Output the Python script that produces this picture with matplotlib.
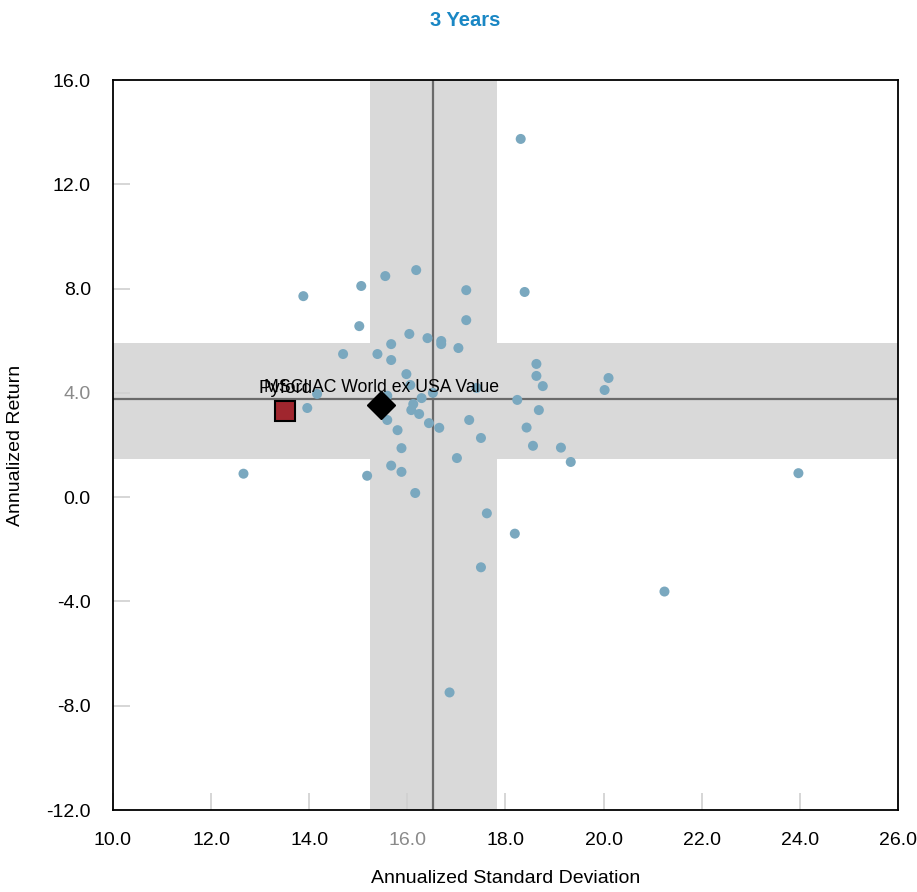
import matplotlib
matplotlib.use("Agg")
import matplotlib.pyplot as plt

plt.rcParams['font.family'] = ['Liberation Sans', 'DejaVu Sans']

# peer universe: annualized std dev / annualized return
peer_sd = [18.31, 16.18, 15.55, 13.88, 15.06, 17.20, 18.39, 15.02, 17.20, 16.04,
           16.41, 16.69, 16.69, 15.67, 17.04, 14.69, 15.39, 15.67, 18.63, 15.98,
           18.63, 20.10, 16.06, 18.76, 17.41, 20.02, 14.16, 16.52, 15.59, 16.29,
           13.96, 16.12, 16.08, 16.24, 15.59, 16.44, 16.65, 17.26, 15.80, 17.50,
           15.88, 17.01, 15.67, 15.88, 15.18, 12.66, 16.16, 18.24, 18.43, 18.68,
           18.56, 19.13, 19.33, 17.62, 18.19, 17.50, 21.24, 16.86, 23.97]
peer_ret = [13.74, 8.71, 8.48, 7.71, 8.10, 7.94, 7.87, 6.56, 6.79, 6.26,
            6.10, 5.99, 5.87, 5.87, 5.72, 5.49, 5.49, 5.26, 5.11, 4.72,
            4.65, 4.57, 4.30, 4.26, 4.19, 4.11, 3.96, 4.00, 3.89, 3.80,
            3.42, 3.57, 3.34, 3.19, 2.96, 2.84, 2.66, 2.96, 2.57, 2.27,
            1.88, 1.50, 1.21, 0.97, 0.82, 0.90, 0.16, 3.73, 2.67, 3.34,
            1.97, 1.90, 1.35, -0.62, -1.40, -2.69, -3.62, -7.49, 0.92]

fund_name = "Pyford"
fund_sd, fund_ret = 13.51, 3.30
bench_name = "MSCI AC World ex USA Value"
bench_sd, bench_ret = 15.47, 3.53

# median lines and interquartile bands
med_sd, sd_band = 16.53, (15.24, 17.82)
med_ret, ret_band = 3.76, (1.46, 5.91)

xticks = [10, 12, 14, 16, 18, 20, 22, 24, 26]
yticks = [-12, -8, -4, 0, 4, 8, 12, 16]

fig = plt.figure(figsize=(9.17, 8.92), dpi=100)
ax = fig.add_axes([0.1232, 0.0919, 0.8561, 0.8184])

band_c = '#d9d9d9'
ax.axvspan(sd_band[0], sd_band[1], color=band_c, lw=0, zorder=1)
ax.axhspan(ret_band[0], ret_band[1], color=band_c, lw=0, zorder=1)
ax.axvline(med_sd, color='#6a6a6a', lw=1.6, zorder=2)
ax.axhline(med_ret, color='#6a6a6a', lw=1.6, zorder=2)

ax.scatter(peer_sd, peer_ret, s=52, color='#7aa8bf', edgecolors='none', zorder=3)
ax.plot(fund_sd, fund_ret, marker='s', ms=14, mfc='#a0262e', mec='black', mew=1.5,
        ls='none', zorder=5)
ax.plot(bench_sd, bench_ret, marker='D', ms=14, color='black', ls='none', zorder=5)
ax.text(fund_sd, fund_ret + 0.55, fund_name, ha='center', va='bottom', fontsize=13.5, zorder=6)
ax.text(bench_sd, bench_ret + 0.35, bench_name, ha='center', va='bottom', fontsize=12.7, zorder=6)

ax.set_xlim(10, 26)
ax.set_ylim(-12, 16)
ax.set_xticks(xticks)
ax.set_yticks(yticks)
ax.set_xticklabels(["%.1f" % v for v in xticks])
ax.set_yticklabels(["%.1f" % v for v in yticks])
ax.tick_params(direction='in', length=12, width=1.2, color='#d0d0d0', labelsize=14)
ax.tick_params(axis='x', pad=16)
ax.tick_params(axis='y', pad=16)
for lab in ax.get_xticklabels():
    if lab.get_text() == "16.0":
        lab.set_color('#8a8a8a')
for lab in ax.get_yticklabels():
    if lab.get_text() == "4.0":
        lab.set_color('#8a8a8a')

for sp in ax.spines.values():
    sp.set_linewidth(1.3)
    sp.set_color('black')
    sp.set_zorder(7)

ax.set_xlabel("Annualized Standard Deviation", fontsize=14, labelpad=15)
ax.set_ylabel("Annualized Return", fontsize=14, labelpad=16)
fig.text(0.507, 0.977, "3 Years", ha='center', va='center', fontsize=14.5,
         fontweight='bold', color='#1a87c4')

fig.savefig("out.png", dpi=100)
